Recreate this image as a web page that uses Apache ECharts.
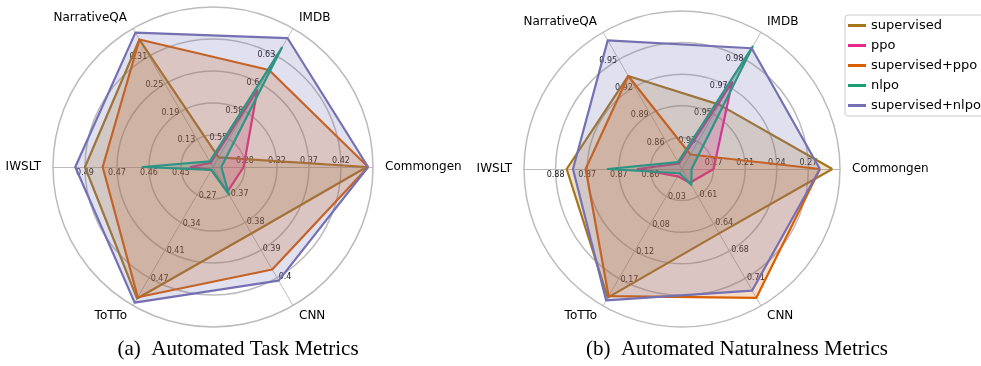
<!DOCTYPE html>
<html>
<head>
<meta charset="utf-8">
<script src="https://cdn.jsdelivr.net/npm/echarts@6/dist/echarts.min.js"></script>
<style>
html,body{margin:0;padding:0;background:#fff;}
#chart{width:981px;height:366px;}
</style>
</head>
<body>
<div id="chart"></div>
<script>
// ---- data ----
const indicators = ['Commongen', 'IMDB', 'NarrativeQA', 'IWSLT', 'ToTTo', 'CNN'];
const seriesNames = ['supervised', 'ppo', 'supervised+ppo', 'nlpo', 'supervised+nlpo'];

// (a) Automated Task Metrics: axis ranges
const taskMin = [0.232, 0.524, 0.07, 0.4365, 0.205, 0.36];
const taskMax = [0.462, 0.654, 0.37, 0.499, 0.54, 0.41];
const taskSupervised = [0.453, 0.533, 0.346, 0.4865, 0.523, 0.384];
const taskPpo        = [0.276, 0.596, 0.079, 0.4453, 0.212, 0.369];
const taskSupPpo     = [0.455, 0.615, 0.346, 0.4796, 0.520, 0.397];
const taskNlpo       = [0.244, 0.636, 0.082, 0.464, 0.212, 0.370];
const taskSupNlpo    = [0.455, 0.645, 0.361, 0.4903, 0.533, 0.401];

// (b) Automated Naturalness Metrics: axis ranges
const natMin = [0.141, 0.915, 0.83, 0.856, -0.012, 0.576];
const natMax = [0.306, 1.0, 0.98, 0.886, 0.213, 0.746];
const natSupervised = [0.298, 0.955, 0.932, 0.8779, 0.1995, 0.656];
const natPpo        = [0.174, 0.969, 0.836, 0.8644, 0.0, 0.593];
const natSupPpo     = [0.285, 0.924, 0.932, 0.8743, 0.197, 0.736];
const natNlpo       = [0.151, 0.991, 0.8375, 0.8701, -0.005, 0.596];
const natSupNlpo    = [0.285, 0.990, 0.971, 0.8767, 0.204, 0.727];

const subTitles = ['(a)  Automated Task Metrics', '(b)  Automated Naturalness Metrics'];

// ---- styles ----
const colors = ['#a6761d', '#e7298a', '#d95f02', '#1b9e77', '#7570b3'];

function tickFmt(v, i) {
  if (i === 0 || i === 5) return '';
  return String(parseFloat(Number(v).toFixed(2)));
}

function radarCfg(center, radius, mins, maxs) {
  return {
    center: center,
    radius: radius,
    startAngle: 0,
    shape: 'circle',
    splitNumber: 5,
    indicator: indicators.map((n, i) => ({ name: n, min: mins[i], max: maxs[i] })),
    axisName: { color: '#000', fontSize: 12, fontFamily: 'DejaVu Sans' },
    nameGap: 12,
    splitArea: { show: false },
    splitLine: { lineStyle: { color: '#bcbcbc', width: 1.5 } },
    axisLine: { lineStyle: { color: '#bcbcbc', width: 1 } },
    axisTick: { show: false },
    axisLabel: {
      show: true, fontSize: 8, color: '#111', fontFamily: 'DejaVu Sans',
      margin: 2, formatter: tickFmt
    }
  };
}

function makeSeries(radarIndex, arrays) {
  return {
    type: 'radar',
    radarIndex: radarIndex,
    symbol: 'none',
    data: arrays.map((arr, k) => ({
      name: seriesNames[k],
      value: arr,
      lineStyle: { color: colors[k], width: 2.2 },
      itemStyle: { color: colors[k] },
      areaStyle: { color: colors[k], opacity: 0.22 }
    }))
  };
}

const chart = echarts.init(document.getElementById('chart'), null, { renderer: 'canvas' });
chart.setOption({
  animation: false,
  color: colors,
  title: [
    { text: subTitles[0], left: 233, top: 334, textAlign: 'center',
      textStyle: { fontFamily: 'Liberation Serif', fontSize: 21, fontWeight: 'normal', color: '#000' } },
    { text: subTitles[1], left: 732, top: 334, textAlign: 'center',
      textStyle: { fontFamily: 'Liberation Serif', fontSize: 21, fontWeight: 'normal', color: '#000' } }
  ],
  legend: {
    data: seriesNames,
    orient: 'vertical',
    left: 845, top: 15,
    icon: 'rect',
    itemWidth: 18, itemHeight: 3,
    itemGap: 7,
    padding: [4, 8, 4, 3],
    borderColor: '#ccc', borderWidth: 1, borderRadius: 3,
    textStyle: { fontFamily: 'DejaVu Sans', fontSize: 13, color: '#000' }
  },
  radar: [
    radarCfg([213, 167], 160, taskMin, taskMax),
    radarCfg([682, 169], 158, natMin, natMax)
  ],
  series: [
    makeSeries(0, [taskSupervised, taskPpo, taskSupPpo, taskNlpo, taskSupNlpo]),
    makeSeries(1, [natSupervised, natPpo, natSupPpo, natNlpo, natSupNlpo])
  ]
});
</script>
</body>
</html>
